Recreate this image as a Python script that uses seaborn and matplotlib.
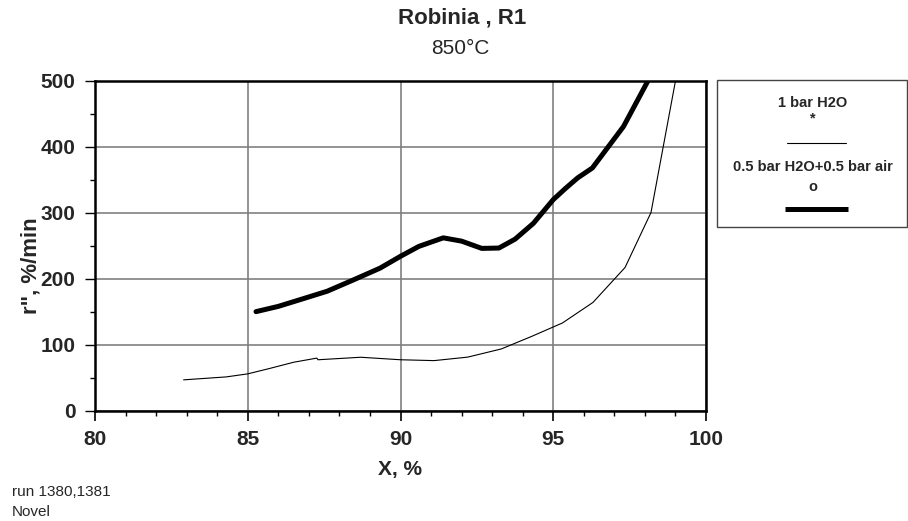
import matplotlib
matplotlib.use("Agg")
import matplotlib.pyplot as plt
from matplotlib.patches import Rectangle
from matplotlib.lines import Line2D
from matplotlib.ticker import MultipleLocator
import seaborn as sns
import pandas as pd

# ---- data ----
thin_x = [82.9, 84.3, 85.0, 85.7, 86.5, 87.26, 87.3, 88.7, 90.0, 91.1, 92.2, 93.3,
          94.3, 95.3, 96.3, 97.35, 98.2, 99.0]
thin_y = [46.5, 51, 55.6, 63.6, 73.2, 79.5, 77, 80.8, 77, 75.7, 81, 93.4,
          112.6, 132.8, 164, 217, 300.5, 500]
thick_x = [85.27, 86.0, 86.7, 87.6, 88.45, 89.33, 90.0, 90.6, 91.4, 92.0, 92.66,
           93.22, 93.75, 94.35, 95.0, 95.4, 95.8, 96.28, 97.3, 98.12]
thick_y = [150, 158, 168, 181, 198, 216, 234, 249, 262, 257, 246,
           246.5, 260, 284, 320, 337, 353, 368, 431, 502]
series_names = ["1 bar H2O", "0.5 bar H2O+0.5 bar air"]
series_markers = ["*", "o"]
title = "Robinia , R1"
subtitle = "850°C"
xlabel = "X, %"
ylabel = 'r", %/min'
footer = ["run 1380,1381", "Novel"]

sns.set_style("white")
plt.rcParams["font.family"] = ["Liberation Sans", "DejaVu Sans"]

W, H = 908, 521
fig = plt.figure(figsize=(W / 100, H / 100), dpi=100)
ax = fig.add_axes([95 / W, 1 - 410.5 / H, (706 - 95) / W, (410.5 - 81) / H])

df_thin = pd.DataFrame({"x": thin_x, "y": thin_y})
df_thick = pd.DataFrame({"x": thick_x, "y": thick_y})
sns.lineplot(data=df_thin, x="x", y="y", color="black", linewidth=0.8,
             sort=False, estimator=None, ax=ax)
sns.lineplot(data=df_thick, x="x", y="y", color="black", linewidth=3.6,
             sort=False, estimator=None, ax=ax)

ax.set_xlim(80, 100)
ax.set_ylim(0, 500)
ax.xaxis.set_major_locator(MultipleLocator(5))
ax.xaxis.set_minor_locator(MultipleLocator(1))
ax.yaxis.set_major_locator(MultipleLocator(100))
ax.yaxis.set_minor_locator(MultipleLocator(50))
ax.grid(True, which="major", color="#808080", linewidth=1.2)
ax.set_axisbelow(True)
for s in ax.spines.values():
    s.set_color("black")
    s.set_linewidth(1.8)
ax.tick_params(axis="both", which="both", direction="out", color="black",
               bottom=True, left=True, top=False, right=False)
ax.tick_params(axis="x", which="major", length=7, width=1.2, pad=7)
ax.tick_params(axis="x", which="minor", length=3.5, width=1.0)
ax.tick_params(axis="y", which="major", length=7, width=1.0, pad=7)
ax.tick_params(axis="y", which="minor", length=3.5, width=1.0)
for lab in ax.get_xticklabels() + ax.get_yticklabels():
    lab.set_fontsize(15)
    lab.set_fontweight("bold")
ax.set_xlabel("")
ax.set_ylabel("")

fig.text(400 / W, 1 - 470 / H, xlabel, ha="center", va="center",
         fontsize=15, fontweight="bold")
fig.text(31 / W, 1 - 266 / H, ylabel, ha="center", va="center", rotation=90,
         fontsize=16, fontweight="bold")
fig.text(462 / W, 1 - 18 / H, title, ha="center", va="center",
         fontsize=16, fontweight="bold")
fig.text(460 / W, 1 - 49 / H, subtitle, ha="center", va="center", fontsize=15)
fig.text(12 / W, 1 - 492 / H, footer[0], ha="left", va="center", fontsize=11)
fig.text(12 / W, 1 - 512 / H, footer[1], ha="left", va="center", fontsize=11)

# legend box
fig.add_artist(Rectangle((717 / W, 1 - 227 / H), 190 / W, 147 / H,
                         transform=fig.transFigure, facecolor="white",
                         edgecolor="#444444", linewidth=1.0))
cx = 813 / W
fig.text(cx, 1 - 102.7 / H, series_names[0], ha="center", va="center",
         fontsize=10.5, fontweight="bold")
fig.text(cx, 1 - 118 / H, series_markers[0], ha="center", va="center",
         fontsize=10.5, fontweight="bold")
fig.add_artist(Line2D([787 / W, 846 / W], [1 - 142.7 / H, 1 - 142.7 / H],
                      transform=fig.transFigure, color="black", linewidth=0.8))
fig.text(cx, 1 - 166.7 / H, series_names[1], ha="center", va="center",
         fontsize=10.5, fontweight="bold")
fig.text(cx, 1 - 186.7 / H, series_markers[1], ha="center", va="center",
         fontsize=10.5, fontweight="bold")
fig.add_artist(Line2D([785 / W, 848 / W], [1 - 209.3 / H, 1 - 209.3 / H],
                      transform=fig.transFigure, color="black", linewidth=3.6,
                      solid_capstyle="butt"))

fig.savefig("out.png", dpi=100)
